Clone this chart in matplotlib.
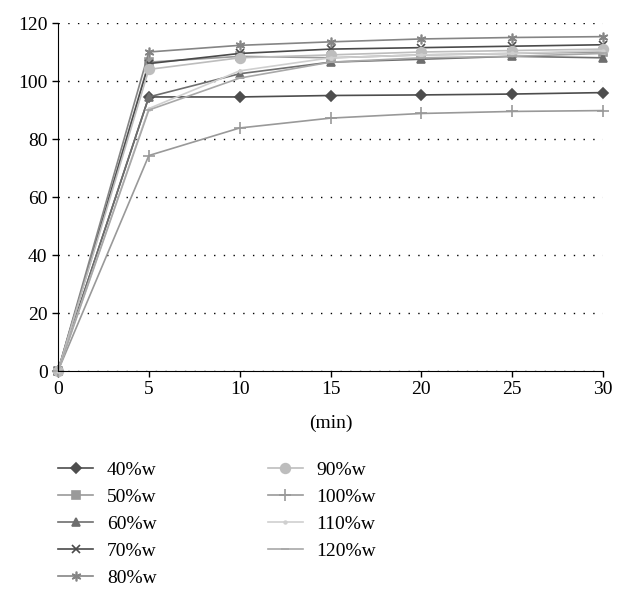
import matplotlib.pyplot as plt

# data
t = [0, 5, 10, 15, 20, 25, 30]
w40 = [0, 94.5, 94.5, 95.0, 95.2, 95.5, 96.0]
w50 = [0, 106.5, 108.5, 108.0, 109.0, 109.5, 110.0]
w60 = [0, 94.5, 102.5, 106.5, 107.5, 108.5, 108.0]
w70 = [0, 106.0, 109.5, 111.0, 111.5, 112.0, 112.5]
w80 = [0, 110.0, 112.3, 113.5, 114.5, 115.0, 115.3]
w90 = [0, 104.0, 108.0, 109.0, 110.0, 110.5, 111.0]
w100 = [0, 74.3, 83.8, 87.2, 88.8, 89.5, 89.8]
w110 = [0, 90.5, 103.5, 108.0, 109.0, 109.5, 110.5]
w120 = [0, 90.0, 101.0, 106.5, 108.0, 108.5, 109.5]

labels = ['40%w', '50%w', '60%w', '70%w', '80%w', '90%w', '100%w', '110%w', '120%w']
series = [w40, w50, w60, w70, w80, w90, w100, w110, w120]
colors = ['#4d4d4d', '#9a9a9a', '#6e6e6e', '#4a4a4a', '#858585',
          '#bdbdbd', '#999999', '#cfcfcf', '#a8a8a8']
markers = ['D', 's', '^', 'x', (6, 2, 0), 'o', '+', '.', '_']
msizes = [5, 5.5, 6, 5.5, 7, 7, 8, 4, 6]

plt.rcParams['font.family'] = ['Liberation Serif', 'DejaVu Serif']
plt.rcParams['font.size'] = 14

fig = plt.figure(figsize=(6.21, 6.03), dpi=100)
ax = fig.add_axes([58/621, 1-371/603, (603-58)/621, (371-23)/603])

for y, lab, c, m, ms in zip(series, labels, colors, markers, msizes):
    ax.plot(t, y, color=c, marker=m, markersize=ms, linewidth=1.2,
            markeredgewidth=1.2, label=lab, clip_on=False)

ax.set_xlim(0, 30)
ax.set_ylim(0, 120)
ax.set_xticks(range(0, 31, 5))
ax.set_yticks(range(0, 121, 20))
ax.yaxis.grid(True, linestyle=(0, (1, 6)), color='black', linewidth=1)
ax.spines['top'].set_visible(False)
ax.spines['right'].set_visible(False)
ax.tick_params(direction='out', length=4, width=1)
ax.set_xlabel('(min)', labelpad=12)

fig.legend(loc='upper left', bbox_to_anchor=(58/621, 1-461/603), ncol=2,
           frameon=False, borderpad=0, borderaxespad=0, handlelength=1.8,
           handletextpad=0.72, labelspacing=0.49, columnspacing=5.7)

fig.savefig('out.png', dpi=100)
